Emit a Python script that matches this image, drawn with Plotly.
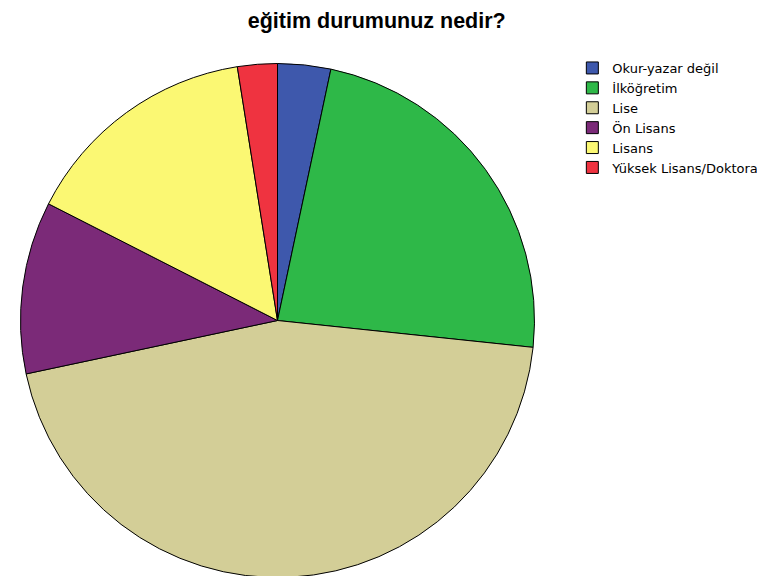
import plotly.graph_objects as go

categories = ["Okur-yazar değil", "İlköğretim", "Lise", "Ön Lisans", "Lisans", "Yüksek Lisans/Doktora"]
counts = [4, 28, 54, 13, 18, 3]
colors = ["#3e58ac", "#2eb848", "#d3ce97", "#7b2a78", "#fbf873", "#ef3340"]

fig = go.Figure(go.Pie(
    labels=categories,
    values=counts,
    sort=False,
    direction="clockwise",
    rotation=0,
    textinfo="none",
    hoverinfo="label+value+percent",
    marker=dict(colors=colors, line=dict(color="#000000", width=1)),
    domain=dict(x=[0.01634, 0.68824], y=[0.01128, 0.90365]),
))

fig.update_layout(
    width=765, height=576,
    margin=dict(l=0, r=0, t=0, b=0, autoexpand=False),
    paper_bgcolor="white",
    plot_bgcolor="white",
    title=dict(text="<b>eğitim durumunuz nedir?</b>", x=0.482, xanchor="center",
               y=1 - 5 / 576, yanchor="top",
               font=dict(family="Liberation Sans, Arial", size=21.5, color="#000000")),
    legend=dict(x=0.7377, y=1 - 45 / 576, xanchor="left", yanchor="top",
                font=dict(family="DejaVu Sans", size=13, color="#000000"),
                itemwidth=30, tracegroupgap=0, traceorder="normal"),
)

fig.write_html("out.html")
